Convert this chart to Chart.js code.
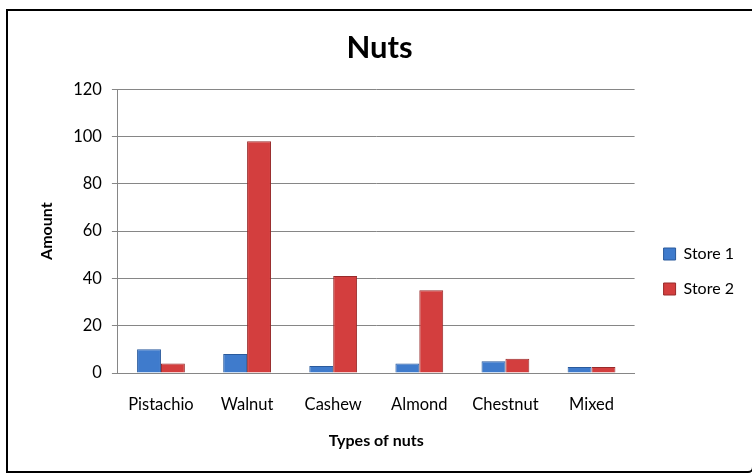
<!DOCTYPE html>
<html lang="en">

<head>
    <meta charset="UTF-8">
    <title>Nuts</title>
    <script src="https://cdn.jsdelivr.net/npm/chart.js"></script>
    <style>
        html, body { margin: 0; padding: 0; background: #ffffff; }
        #wrap { position: relative; width: 752px; height: 476px; }
        #frame {
            position: absolute; left: 6px; top: 9px; width: 744px; height: 460px;
            border: 2px solid #000; border-radius: 0 0 6px 0;
        }
        canvas { position: absolute; left: 0; top: 0; }
    </style>
</head>

<body>
    <div id="wrap">
        <div id="frame"></div>
        <canvas id="nutsChart" width="752" height="476"></canvas>
    </div>

    <script>
        const nuts = ["Pistachio", "Walnut", "Cashew", "Almond", "Chestnut", "Mixed"];
        const store1 = [10, 8, 3, 4, 5, 2.5];
        const store2 = [4, 98, 41, 35, 6, 2.5];
        const yTicks = [0, 20, 40, 60, 80, 100, 120];

        const axisGray = "#868686";
        const font = "Lato, 'Open Sans', sans-serif";

        // nudge legend right and title left, like the original layout
        const boxShift = {
            id: "boxShift",
            afterLayout(chart) {
                chart.legend.left += 10;
                chart.legend.right += 10;
                chart.titleBlock.left -= 6;
                chart.titleBlock.right -= 6;
            }
        };

        new Chart(document.getElementById("nutsChart"), {
            type: "bar",
            data: {
                labels: nuts,
                datasets: [{
                    label: "Store 1",
                    data: store1,
                    backgroundColor: "#3f7bcc",
                    borderColor: "#2a5a9c",
                    borderWidth: 1,
                    categoryPercentage: 0.555,
                    barPercentage: 1.0
                }, {
                    label: "Store 2",
                    data: store2,
                    backgroundColor: "#d33e3e",
                    borderColor: "#982a2a",
                    borderWidth: 1,
                    categoryPercentage: 0.555,
                    barPercentage: 1.0
                }]
            },
            plugins: [boxShift],
            options: {
                responsive: false,
                animation: false,
                layout: { padding: { top: 29, left: 37, right: 18, bottom: 26 } },
                plugins: {
                    title: {
                        display: true,
                        text: "Nuts",
                        color: "#000",
                        font: { family: font, size: 31, weight: "bold" },
                        padding: { top: 0, bottom: 23 }
                    },
                    legend: {
                        position: "right",
                        title: { display: true, text: " ", font: { size: 15 }, padding: 23 },
                        labels: {
                            color: "#000",
                            font: { family: font, size: 16 },
                            boxWidth: 12,
                            boxHeight: 12,
                            padding: 19
                        }
                    },
                    tooltip: { enabled: false }
                },
                scales: {
                    x: {
                        grid: { display: true, drawOnChartArea: false, drawTicks: false },
                        border: { display: true, color: axisGray },
                        ticks: { color: "#000", font: { family: font, size: 16.5 }, padding: 22 },
                        title: {
                            display: true, text: "Types of nuts", color: "#000",
                            font: { family: font, size: 16, weight: "bold" },
                            padding: { top: -6, bottom: 0 }
                        }
                    },
                    y: {
                        min: 0,
                        max: 120,
                        afterBuildTicks: (axis) => { axis.ticks = yTicks.map(v => ({ value: v })); },
                        grid: { color: axisGray, tickLength: 6 },
                        border: { display: true, color: axisGray },
                        ticks: { color: "#000", font: { family: font, size: 16.5 }, padding: 10 },
                        title: {
                            display: true, text: "Amount", color: "#000",
                            font: { family: font, size: 16, weight: "bold" },
                            padding: { top: 0, bottom: 7 }
                        }
                    }
                }
            }
        });
    </script>
</body>

</html>
